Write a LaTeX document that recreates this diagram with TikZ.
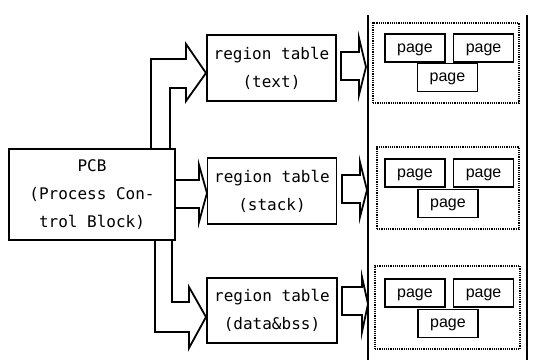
\documentclass[tikz,border=0pt]{standalone}
\usepackage{fontspec}
\usepackage{tikz}
\usetikzlibrary{positioning}
\newfontfamily\tablefont{DejaVu Sans Mono}
\newfontfamily\pagefont{Liberation Sans}

\begin{document}
\begin{tikzpicture}[x=1pt,y=-1pt,
            tbl/.style={draw,rectangle,line width=1.9pt,align=center,inner sep=0pt,
              font=\tablefont\fontsize{16}{28}\selectfont},
            page/.style={draw,rectangle,line width=1.6pt,minimum width=60pt,minimum height=28pt,
              inner sep=0pt,text depth=0pt,font=\pagefont\fontsize{16}{19}\selectfont},
            region/.style={draw,rectangle,line width=1.8pt,dash pattern=on 1.2pt off 1pt},
            fat/.style={draw,line width=1.8pt,line join=miter},
            sep/.style={draw,line width=1.6pt}
          ]
          \useasboundingbox (0,0) rectangle (533,360);

          \node[tbl,minimum width=166pt,minimum height=91pt] (pcb) at (92,194.5)
            {PCB\\(Process Con-\\trol Block)};

          %region tables
          \node[tbl,minimum width=129pt,minimum height=66pt] (tabtext) at (271.5,68) {region table\\(text)};
          \node[tbl,minimum width=129pt,minimum height=66pt] (tabstack) at (272,191) {region table\\(stack)};
          \node[tbl,minimum width=130pt,minimum height=65pt] (tabdata) at (272,310.5) {region table\\(data\&bss)};

          %memory
          \draw[sep] (368,15) -- (368,360);
          \draw[sep] (527,15) -- (527,360);

          \node[region,minimum width=146pt,minimum height=80pt] (regtext) at (446,63) {};
          \node[region,minimum width=142pt,minimum height=82pt] (regstack) at (448,188) {};
          \node[region,minimum width=145pt,minimum height=83pt] (regdata) at (447.5,307.5) {};

          %pages
          \node[page] (tp1) at (415,48) {page};
          \node[page,right=7pt of tp1] (tp2) {page};
          \node[page] (tp3) at (447.5,77.5) {page};

          \node[page] (sp1) at (415,173) {page};
          \node[page,right=7pt of sp1] (sp2) {page};
          \node[page] (sp3) at (448,203.5) {page};

          \node[page] (dp1) at (415,293) {page};
          \node[page,right=7pt of dp1] (dp2) {page};
          \node[page] (dp3) at (448,323.5) {page};

          %big arrows
          \draw[fat] (151,149) -- (151,59) -- (186,59) -- (186,44) -- (206,73)
            -- (186,101) -- (186,88) -- (170,88) -- (170,149);
          \draw[fat] (175,180) -- (199,180) -- (199,165) -- (207,193)
            -- (199,222) -- (199,208) -- (175,208);
          \draw[fat] (155,240) -- (155,332) -- (189,332) -- (189,348) -- (206,317)
            -- (189,287) -- (189,302) -- (172,302) -- (172,240);

          \draw[fat] (341,52) -- (359,52) -- (359,38) -- (366,67)
            -- (359,95) -- (359,80) -- (341,80) -- cycle;
          \draw[fat] (342,175) -- (360,175) -- (360,162) -- (367,190)
            -- (360,217) -- (360,203) -- (342,203) -- cycle;
          \draw[fat] (342,287) -- (362,287) -- (362,277) -- (368,304)
            -- (362,332) -- (362,315) -- (342,315) -- cycle;

      \end{tikzpicture}
\end{document}
